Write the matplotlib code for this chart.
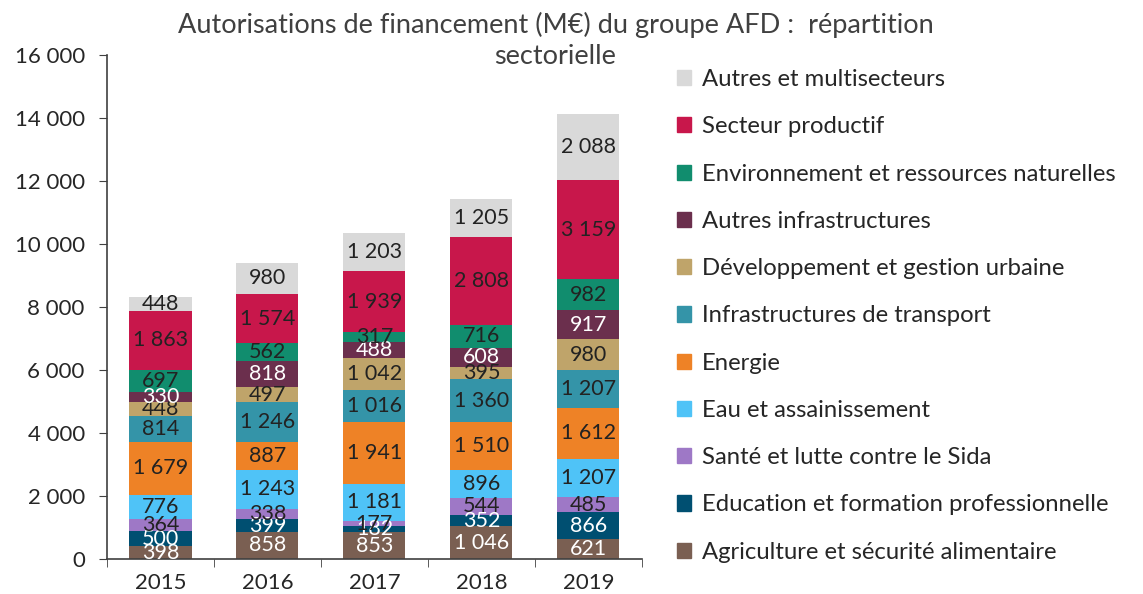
import numpy as np
import matplotlib
matplotlib.use('Agg')
import matplotlib.pyplot as plt
from matplotlib.patches import Patch

plt.rcParams['font.family'] = ['Lato', 'DejaVu Sans']

years = ['2015', '2016', '2017', '2018', '2019']

# séries du bas vers le haut
agriculture = [398, 858, 853, 1046, 621]
education = [500, 399, 182, 352, 866]
sante = [364, 338, 177, 544, 485]
eau = [776, 1243, 1181, 896, 1207]
energie = [1679, 887, 1941, 1510, 1612]
transport = [814, 1246, 1016, 1360, 1207]
urbain = [448, 497, 1042, 395, 980]
autres_infra = [330, 818, 488, 608, 917]
environnement = [697, 562, 317, 716, 982]
productif = [1863, 1574, 1939, 2808, 3159]
autres = [448, 980, 1203, 1205, 2088]

series = [agriculture, education, sante, eau, energie, transport,
          urbain, autres_infra, environnement, productif, autres]
names = ['Agriculture et sécurité alimentaire',
         'Education et formation professionnelle',
         'Santé et lutte contre le Sida',
         'Eau et assainissement',
         'Energie',
         'Infrastructures de transport',
         'Développement et gestion urbaine',
         'Autres infrastructures',
         'Environnement et ressources naturelles',
         'Secteur productif',
         'Autres et multisecteurs']
colors = ['#7a5f52', '#004f71', '#9e78c6', '#4fc3f7', '#ee8226', '#3494a8',
          '#bfa46a', '#6b2f4d', '#118d6e', '#c8174b', '#d9d9d9']
txt_colors = ['white', 'white', '#222222', '#222222', '#222222', '#222222',
              '#222222', 'white', '#222222', '#222222', '#222222']


def fmt(v):
    return f"{v:,}".replace(",", " ")


fig = plt.figure(figsize=(11.43, 5.94), dpi=100)
ax = fig.add_axes([0.0936, 0.0589, 0.468, 0.8485])

x = np.arange(len(years))
bottom = np.zeros(len(years))
for vals, name, c, tc in zip(series, names, colors, txt_colors):
    vals = np.array(vals)
    ax.bar(x, vals, 0.58, bottom=bottom, color=c, label=name)
    for xi, b, v in zip(x, bottom, vals):
        ax.text(xi, b + v / 2, fmt(v), ha='center', va='center',
                fontsize=15.5, color=tc)
    bottom = bottom + vals

ax.set_xlim(-0.5, len(years) - 0.5)
ax.set_ylim(0, 16000)
ax.set_yticks(np.arange(0, 16001, 2000))
ax.set_yticklabels([fmt(v) for v in range(0, 16001, 2000)], fontsize=16, color='#262626')
ax.set_xticks(x)
ax.set_xticklabels(years, fontsize=16, color='#262626')
ax.set_xticks(np.arange(-0.5, len(years), 1), minor=True)
ax.tick_params(axis='x', which='major', length=0, pad=10)
ax.tick_params(axis='x', which='minor', length=6, direction='out', color='#404040')
ax.tick_params(axis='y', length=6, direction='out', color='#404040', pad=10)
for s in ['top', 'right']:
    ax.spines[s].set_visible(False)
for s in ['left', 'bottom']:
    ax.spines[s].set_color('#404040')
    ax.spines[s].set_linewidth(1.2)

fig.text(0.486, 0.98, 'Autorisations de financement (M€) du groupe AFD :  répartition\nsectorielle',
         ha='center', va='top', fontsize=19.5, color='#404040', linespacing=1.3)

handles = [Patch(color=c, label=n) for c, n in zip(colors, names)][::-1]
fig.legend(handles=handles, loc='upper left', bbox_to_anchor=(0.584, 0.9),
           frameon=False, fontsize=17.2, handlelength=0.6, handleheight=0.6,
           handletextpad=0.45, labelspacing=1.1, borderaxespad=0,
           labelcolor='#262626')

fig.savefig('out.png', dpi=100)
